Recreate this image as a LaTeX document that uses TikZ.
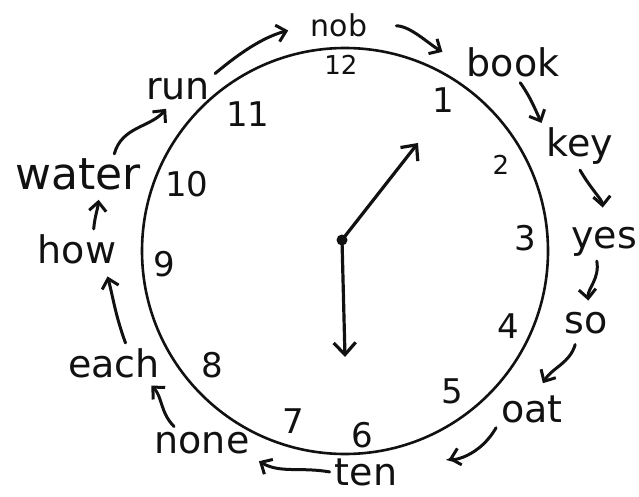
\documentclass[tikz,border=0pt]{standalone}
\usepackage{fontspec}
\setmainfont{DejaVu Sans}
\usepackage{tikz}
\usetikzlibrary{arrows.meta}
\definecolor{inkc}{HTML}{111111}
\tikzset{
  dial/.style={draw=inkc, line width=2.6pt},
  hand/.style={draw=inkc, line width=3.2pt, line cap=round, -{Straight Barb[length=12pt,width=22pt]}},
  link/.style={draw=inkc, line width=3pt, line cap=round, -{Straight Barb[length=9pt,width=17pt]}},
  word/.style={text=inkc, inner sep=5pt, anchor=base, font=\fontsize{38}{40}\selectfont},
  numeral/.style={text=inkc, inner sep=2pt, anchor=base, font=\fontsize{34}{36}\selectfont},
}

\begin{document}
\begin{tikzpicture}[x=1pt,y=1pt]
\useasboundingbox (0,0) rectangle (639,496);
% clock face
\draw[dial] (345,245) circle (203);
\node[numeral, font=\fontsize{26}{28}\selectfont] (n12) at (341,421) {12};
\node[numeral] (n1) at (443,383) {1};
\node[numeral, font=\fontsize{26}{28}\selectfont] (n2) at (501,321) {2};
\node[numeral] (n3) at (525,246) {3};
\node[numeral] (n4) at (508,158) {4};
\node[numeral] (n5) at (452,93) {5};
\node[numeral] (n6) at (362,49) {6};
\node[numeral] (n7) at (293,63) {7};
\node[numeral] (n8) at (212,119) {8};
\node[numeral] (n9) at (164,220) {9};
\node[numeral] (n10) at (187,299) {10};
\node[numeral] (n11) at (248,369) {11};
% hands
\node[circle, fill=inkc, inner sep=0pt, minimum size=11pt] (hub) at (342,256) {};
\coordinate (hourtip) at (418,353);
\coordinate (minutetip) at (345,139);
\draw[hand] (hub.center) -- (hourtip);
\draw[hand] (hub.center) -- (minutetip);
% words round the dial
\node[word, font=\fontsize{30}{32}\selectfont] (nob) at (339,459) {nob};
\node[word] (book) at (513,419) {book};
\node[word] (key) at (580,339) {key};
\node[word] (yes) at (604,248) {yes};
\node[word] (so) at (586,163) {so};
\node[word] (oat) at (532,74) {oat};
\node[word] (ten) at (366,11) {ten};
\node[word] (none) at (202,43) {none};
\node[word] (each) at (114,119) {each};
\node[word] (how) at (77,233) {how};
\node[word, font=\fontsize{44}{46}\selectfont] (water) at (78,306) {water};
\node[word] (run) at (178,396) {run};
% arrows from word to word
\draw[link, shorten >=18pt] (run.north east) to[out=40,in=195] (nob.west);
\draw[link, shorten <=24pt, shorten >=22pt] (nob.east) to[out=0,in=150] (book.west);
\draw[link] (book.-70) to[out=-55,in=115] (key.north west);
\draw[link, shorten >=14pt] (key.south) to[out=-60,in=95] (yes.north);
\draw[link, shorten >=6pt] (yes.-110) to[out=-80,in=95] (so.80);
\draw[link, shorten <=6pt, shorten >=8pt] (so.-120) to[out=-105,in=60] (oat.70);
\draw[link, shorten >=48pt] (oat.south west) to[out=-120,in=15] (ten.east);
\draw[link, shorten >=5pt] (ten.west) to[out=170,in=-30] (none.south east);
\draw[link, shorten >=4pt] (none.150) to[out=135,in=-45] (each.-30);
\draw[link, shorten >=8pt] (each.60) to[out=110,in=-75] (how.-35);
\draw[link, shorten >=4pt] (how.50) to[out=85,in=-95] (water.-45);
\draw[link, shorten >=4pt] (water.30) to[out=75,in=-130] (run.-120);
\end{tikzpicture}
\end{document}
